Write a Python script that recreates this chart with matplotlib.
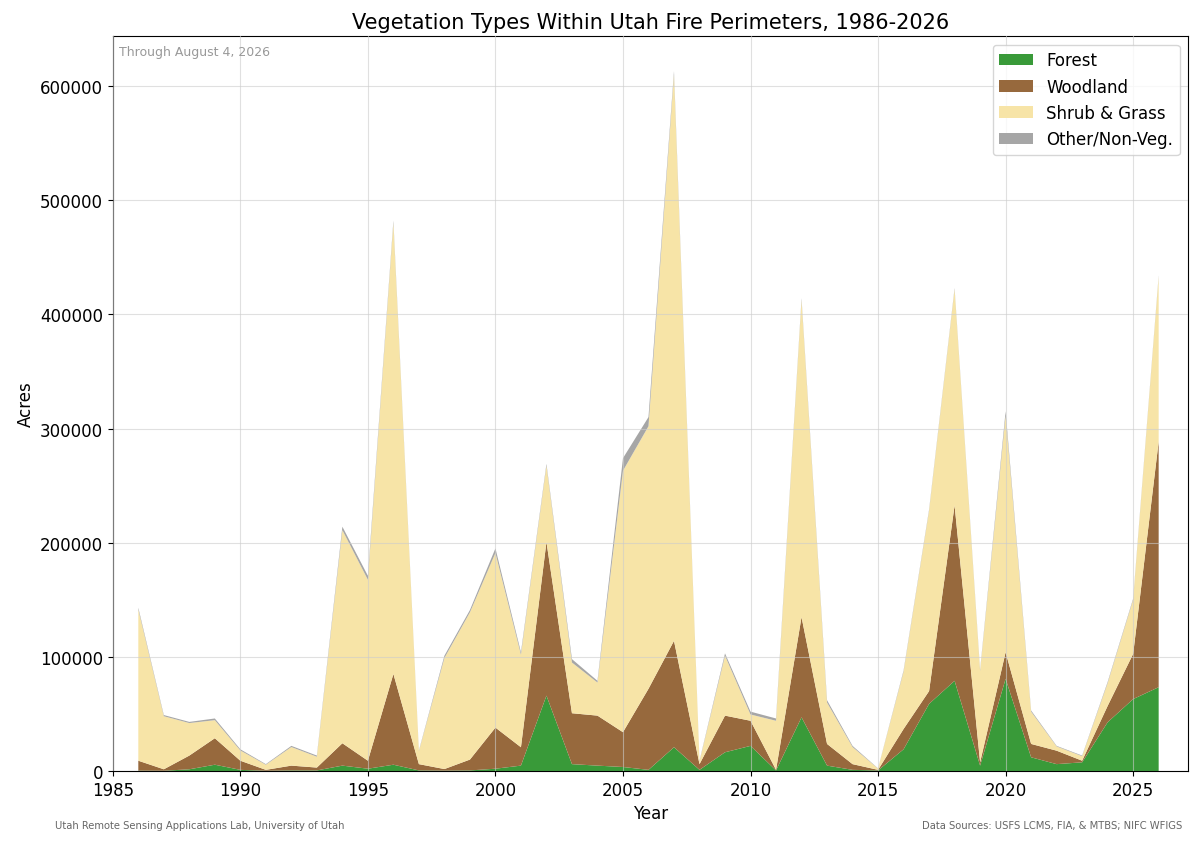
import matplotlib
matplotlib.use("Agg")
import matplotlib.pyplot as plt
import numpy as np

years = list(range(1986, 2027))

# acres in thousands
forest_k = [0.3, 0.2, 1.5, 5.5, 1.0, 0.2, 0.5, 0.5, 4.7, 2.0,
            5.5, 0.5, 0.3, 0.5, 2.0, 4.7, 66.0, 6.0, 4.7, 3.5,
            1.0, 20.8, 1.0, 16.4, 22.0, 0.5, 47.0, 4.7, 1.0, 0.5,
            19.0, 58.8, 79.0, 4.7, 80.7, 12.0, 6.0, 7.6, 42.7, 63.0,
            73.4]
woodland_k = [8.7, 1.3, 12.0, 23.2, 8.0, 0.8, 4.2, 2.5, 19.6, 7.0,
              79.5, 5.5, 1.4, 9.5, 36.0, 16.1, 134.6, 44.6, 43.8, 30.5,
              71.0, 93.2, 5.0, 32.1, 22.0, 0.5, 87.8, 19.0, 5.0, 0.5,
              17.8, 11.2, 153.7, 2.9, 23.3, 11.7, 11.8, 1.4, 14.3, 39.6,
              215.2]
shrub_k = [132.5, 46.5, 28.5, 15.8, 9.0, 4.5, 16.3, 9.5, 186.7, 158.5,
           395.0, 11.5, 97.3, 129.0, 153.0, 81.2, 66.9, 44.4, 29.0, 229.0,
           230.0, 496.0, 2.5, 52.5, 5.5, 43.0, 277.7, 36.3, 15.0, 1.1,
           50.2, 158.0, 189.3, 80.0, 207.0, 28.3, 3.7, 4.0, 20.0, 47.4,
           144.4]
other_k = [1.5, 1.0, 1.0, 1.5, 1.0, 0.5, 1.0, 1.0, 3.0, 3.5,
           2.0, 0.5, 2.0, 2.0, 4.0, 2.0, 1.5, 3.0, 1.5, 11.0,
           8.0, 3.0, 0.5, 2.0, 2.5, 2.0, 1.5, 2.0, 1.0, 0.2,
           1.0, 1.0, 1.0, 1.0, 4.0, 1.0, 0.5, 0.5, 1.0, 1.0,
           1.0]

labels = ["Forest", "Woodland", "Shrub & Grass", "Other/Non-Veg."]
colors = ["#399a39", "#97693d", "#f7e4a7", "#a6a6a6"]

forest = np.array(forest_k) * 1000
woodland = np.array(woodland_k) * 1000
shrub = np.array(shrub_k) * 1000
other = np.array(other_k) * 1000

fig = plt.figure(figsize=(12, 8.45), dpi=100)
ax = fig.add_axes([0.094, 0.0864, 0.896, 0.8696])

ax.stackplot(years, forest, woodland, shrub, other, labels=labels,
             colors=colors, zorder=2)
ax.grid(True, color="#cccccc", alpha=0.6, linewidth=0.8, zorder=3)
ax.set_axisbelow(False)

ax.set_xlim(1985, 2027.15)
ax.set_xticks(range(1985, 2026, 5))
ax.tick_params(labelsize=12)
ax.set_xlabel("Year", fontsize=12)
ax.set_ylabel("Acres", fontsize=12)
ax.set_title("Vegetation Types Within Utah Fire Perimeters, 1986-2026", fontsize=15)
ax.ticklabel_format(axis="y", style="plain")

ax.legend(loc="upper right", fontsize=12)
ax.text(0.0056, 0.988, "Through August 4, 2026", transform=ax.transAxes,
        ha="left", va="top", fontsize=9, color="#999999")

fig.text(0.046, 0.0225, "Utah Remote Sensing Applications Lab, University of Utah",
         ha="left", va="center", fontsize=7.2, color="#666666")
fig.text(0.985, 0.0225, "Data Sources: USFS LCMS, FIA, & MTBS; NIFC WFIGS",
         ha="right", va="center", fontsize=7.2, color="#666666")

fig.savefig("out.png", dpi=100)
